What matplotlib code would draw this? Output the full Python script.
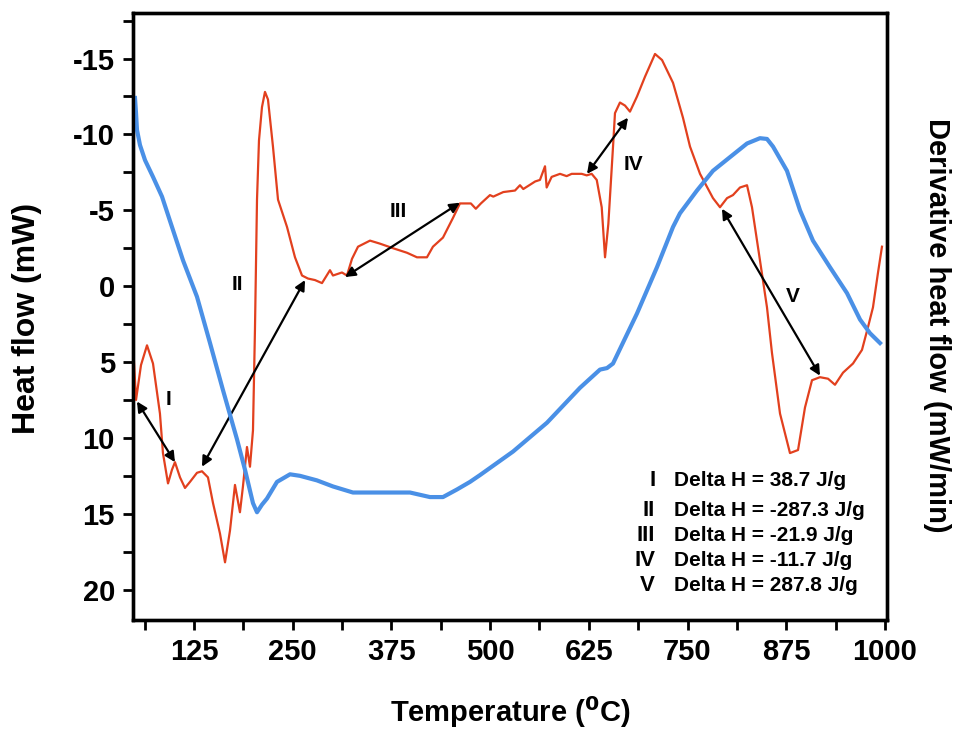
import matplotlib
matplotlib.use("Agg")
import matplotlib.pyplot as plt
import numpy as np

plt.rcParams["font.family"] = ["Liberation Sans", "DejaVu Sans"]
plt.rcParams["font.weight"] = "bold"
plt.rcParams["mathtext.default"] = "bf"
plt.rcParams["axes.unicode_minus"] = False

# Heat flow (red): temperature in deg C, heat flow in mW
red_T = [49.0, 51.6, 57.9, 65.5, 73.1, 81.9, 85.7, 92.1, 97.1, 100.9, 107.3, 113.6, 119.9,
         128.8, 135.1, 142.7, 149.1, 157.9, 164.3, 170.6, 176.9, 183.2, 187.0, 192.1, 195.9,
         199.7, 202.2, 204.8, 207.3, 211.1, 214.9, 218.7, 225.0, 231.4, 242.8, 252.9, 261.8,
         269.4, 278.2, 287.1, 297.2, 301.0, 312.4, 318.7, 325.1, 332.7, 347.9, 360.5, 377.0,
         394.7, 407.4, 420.0, 427.6, 440.3, 453.0, 461.8, 475.6, 481.9, 488.3, 499.8, 504.0,
         516.7, 531.5, 537.8, 542.0, 557.1, 563.1, 569.5, 571.6, 577.9, 588.5, 596.9, 603.3,
         616.0, 622.3, 628.6, 635.0, 641.3, 645.5, 649.7, 656.1, 658.1, 664.4, 670.8, 677.1,
         686.0, 696.1, 708.8, 717.7, 731.6, 744.2, 753.1, 765.8, 782.2, 791.1, 800.0, 807.5,
         816.4, 825.3, 831.6, 841.7, 850.6, 856.9, 867.1, 879.7, 889.9, 898.7, 907.6, 917.7,
         927.9, 936.7, 946.9, 959.5, 970.9, 978.5, 984.8, 991.2, 996.2]
red_hf = [5.0, 7.5, 5.2, 3.9, 5.1, 8.4, 11.0, 13.0, 12.1, 11.6, 12.6, 13.3, 12.9,
          12.3, 12.2, 12.6, 14.3, 16.3, 18.2, 16.1, 13.1, 14.9, 13.2, 10.6, 11.9,
          9.5, 2.9, -5.7, -9.6, -11.8, -12.8, -12.3, -9.2, -5.7, -3.9, -1.9, -0.7,
          -0.5, -0.4, -0.2, -1.05, -0.7, -0.9, -0.7, -1.8, -2.6, -3.0, -2.8, -2.5,
          -2.2, -1.9, -1.9, -2.6, -3.2, -4.5, -5.45, -5.45, -5.1, -5.45, -6.0, -5.9,
          -6.2, -6.3, -6.65, -6.4, -6.9, -7.0, -7.9, -6.5, -7.2, -7.4, -7.25, -7.4,
          -7.4, -7.3, -7.4, -7.0, -5.2, -1.9, -4.1, -9.6, -11.4, -12.1, -11.9, -11.5,
          -12.5, -13.8, -15.3, -14.9, -13.4, -11.1, -9.2, -7.4, -5.8, -5.2, -5.8, -6.0,
          -6.5, -6.65, -5.2, -1.7, 1.4, 4.4, 8.4, 11.0, 10.8, 8.0, 6.2, 6.0,
          6.1, 6.5, 5.7, 5.1, 4.2, 2.7, 1.4, -0.9, -2.6]

# Derivative heat flow (blue), drawn on an untagged right axis
blue_T = [50.3, 51.6, 52.8, 56.6, 63.0, 73.1, 84.5, 94.6, 111.1, 128.8, 145.3, 161.7,
          179.5, 189.6, 199.7, 204.8, 211.1, 217.4, 230.1, 246.6, 259.2, 280.7, 301.0,
          326.3, 364.3, 398.5, 423.8, 440.3, 458.0, 474.5, 487.2, 529.0, 572.0, 613.8,
          639.1, 648.0, 655.6, 686.0, 711.3, 731.6, 740.4, 761.9, 782.2, 803.7, 825.3,
          841.7, 850.6, 858.2, 875.9, 892.4, 908.8, 930.3, 951.9, 968.4, 981.0, 993.7]
blue_dhf = [-12.4, -11.4, -10.3, -9.3, -8.3, -7.2, -5.9, -4.3, -1.7, 0.7, 3.75, 6.85,
            10.1, 12.1, 14.3, 14.9, 14.4, 14.0, 12.9, 12.4, 12.5, 12.8, 13.2,
            13.6, 13.6, 13.6, 13.9, 13.9, 13.4, 12.9, 12.45, 10.9, 9.0, 6.7,
            5.5, 5.4, 5.1, 1.8, -1.25, -3.9, -4.8, -6.3, -7.6, -8.5, -9.4,
            -9.75, -9.7, -9.2, -7.6, -5.0, -3.0, -1.25, 0.46, 2.2, 3.1, 3.75]

# Double arrows marking the integrated regions
arrow_start = [(52.8, 7.6), (135.1, 11.9), (316.2, -0.6), (622.7, -7.4), (793.6, -5.1)]
arrow_end = [(100.9, 11.6), (265.6, -0.4), (461.8, -5.5), (674.6, -11.1), (917.7, 5.9)]

region_names = ["I", "II", "III", "IV", "V"]
region_pos = [(92.1, 7.5), (179.5, -0.1), (383.3, -4.9), (680.9, -8.0), (883.5, 0.7)]
delta_h = ["38.7", "-287.3", "-21.9", "-11.7", "287.8"]

red = "#e2401e"
blue = "#4a90e6"

fig = plt.figure(figsize=(9.57, 7.3), dpi=100)
ax = fig.add_axes([0.139, 0.1507, 0.7878, 0.8315])
ax2 = ax.twinx()

ax.plot(red_T, red_hf, color=red, lw=1.6, zorder=3)
ax2.plot(blue_T, blue_dhf, color=blue, lw=3.0, zorder=2, solid_joinstyle="round")

for (x0, y0), (x1, y1) in zip(arrow_start, arrow_end):
    ax.annotate("", xy=(x1, y1), xytext=(x0, y0),
                arrowprops=dict(arrowstyle="<|-|>", color="black", lw=1.6,
                                mutation_scale=15, shrinkA=0, shrinkB=0), zorder=4)

for name, (x, y) in zip(region_names, region_pos):
    ax.text(x, y, name, fontsize=15, fontweight="bold", ha="center", va="center")

# Delta H table
rows_y = [12.8, 14.8, 16.45, 18.05, 19.7]
for name, dh, y in zip(region_names, delta_h, rows_y):
    ax.text(709, y, name, fontsize=16, fontweight="bold", ha="right", va="center")
    ax.text(733, y, f"Delta H = {dh} J/g", fontsize=15, fontweight="bold",
            ha="left", va="center")

ax.set_xlim(47.8, 1002.5)
ax.set_ylim(22, -18)
ax2.set_ylim(22, -18)
ax2.set_yticks([])

ax.set_xticks(np.arange(125, 1001, 125))
ax.set_xticks(np.arange(62.5, 1000, 125), minor=True)
ax.set_yticks(np.arange(-15, 21, 5))
ax.set_yticks(np.arange(-17.5, 20, 5), minor=True)

ax.tick_params(which="major", direction="out", length=7, width=2, labelsize=21, pad=6)
ax.tick_params(which="minor", direction="out", length=7, width=2)
ax.tick_params(axis="x", which="both", top=False)
ax.tick_params(axis="y", which="both", right=False)
for lab in ax.get_xticklabels() + ax.get_yticklabels():
    lab.set_fontweight("bold")

for a in (ax, ax2):
    for sp in a.spines.values():
        sp.set_linewidth(2.4)

ax.set_xlabel(r"Temperature ($^0$C)", fontsize=21, fontweight="bold", va="center")
ax.xaxis.set_label_coords(0.5, -0.1516)
ax.set_ylabel("Heat flow (mW)", fontsize=23, fontweight="bold", va="center")
ax.yaxis.set_label_coords(-0.1406, 0.4975)
ax2.set_ylabel("Derivative heat flow (mW/min)", fontsize=21, fontweight="bold",
               rotation=270, va="center")
ax2.yaxis.set_label_coords(1.066, 0.486)

fig.savefig("out.png", dpi=100)
